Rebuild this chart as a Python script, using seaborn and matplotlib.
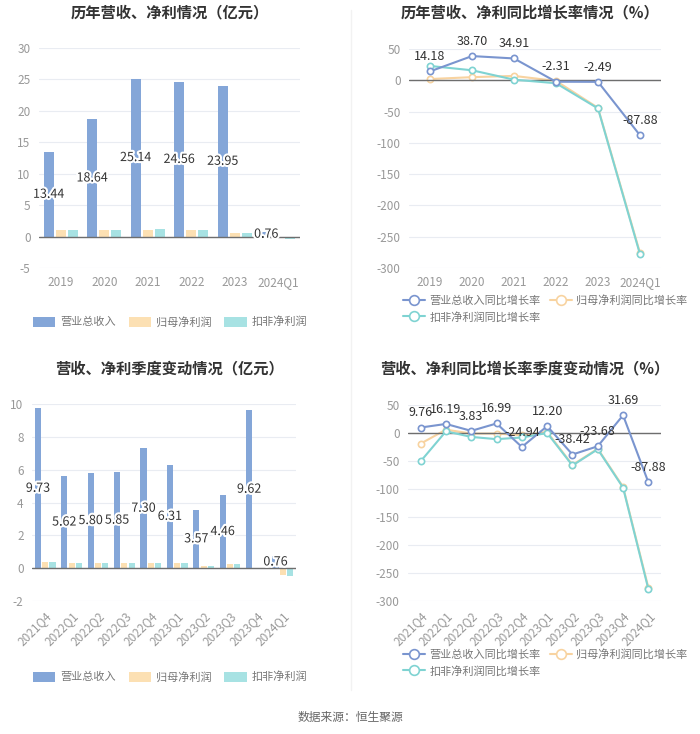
import matplotlib
matplotlib.use("Agg")
import matplotlib.pyplot as plt
import matplotlib.patheffects as pe
from matplotlib.lines import Line2D
from matplotlib.patches import Patch
import seaborn as sns
import pandas as pd
import numpy as np

sns.set_theme(style="white")
plt.rcParams['font.family'] = ['Noto Sans CJK SC', 'DejaVu Sans']
plt.rcParams['axes.unicode_minus'] = False

# ---------------- data ----------------
years = ["2019", "2020", "2021", "2022", "2023", "2024Q1"]
rev_y = [13.44, 18.64, 25.14, 24.56, 23.95, 0.76]
np_y = [1.02, 1.03, 1.12, 1.11, 0.52, -0.28]
kf_y = [0.98, 1.12, 1.14, 1.08, 0.52, -0.40]

rev_g_y = [14.18, 38.70, 34.91, -2.31, -2.49, -87.88]
np_g_y = [2.0, 5.0, 7.0, -1.0, -44.0, -276.0]
kf_g_y = [22.9, 16.0, 1.0, -4.7, -45.0, -278.0]

quarters = ["2021Q4", "2022Q1", "2022Q2", "2022Q3", "2022Q4",
            "2023Q1", "2023Q2", "2023Q3", "2023Q4", "2024Q1"]
rev_q = [9.73, 5.62, 5.80, 5.85, 7.30, 6.31, 3.57, 4.46, 9.62, 0.76]
np_q = [0.38, 0.30, 0.33, 0.32, 0.33, 0.30, 0.12, 0.25, -0.05, -0.40]
kf_q = [0.36, 0.29, 0.30, 0.31, 0.32, 0.30, 0.12, 0.24, -0.05, -0.46]

rev_g_q = [9.76, 16.19, 3.83, 16.99, -24.94, 12.20, -38.42, -23.68, 31.69, -87.88]
np_g_q = [-19.0, 6.0, -1.0, -1.0, -4.0, 2.0, -57.0, -28.0, -96.0, -276.0]
kf_g_q = [-50.5, 3.0, -7.0, -11.0, -8.0, 0.0, -58.0, -29.0, -97.5, -278.6]

bar_names = ["营业总收入", "归母净利润", "扣非净利润"]
line_names = ["营业总收入同比增长率", "归母净利润同比增长率", "扣非净利润同比增长率"]

bar_colors = ["#84a6d8", "#fce0b3", "#a7e2e3"]
line_colors = ["#7a95cf", "#f8d3a0", "#7fd3d2"]

tick_color = "#999999"
grid_color = "#e9ecf2"
text_color = "#333333"

W, H = 700, 734
fig = plt.figure(figsize=(7.0, 7.34), dpi=100)


def rect(l, t, r, b):
    return [l / W, 1 - b / H, (r - l) / W, (b - t) / H]


def style_axes(ax, yticks, ylim, rot=False):
    for s in ax.spines.values():
        s.set_visible(False)
    ax.set_yticks(yticks)
    ax.set_ylim(*ylim)
    ax.yaxis.grid(True, color=grid_color, lw=0.8)
    ax.set_axisbelow(True)
    ax.axhline(0, color="#6e6e6e", lw=1.0, zorder=4)
    ax.tick_params(axis="both", length=0, colors=tick_color, labelsize=8.5, pad=6)
    ax.set_xlabel("")
    ax.set_ylabel("")
    if rot:
        for lab in ax.get_xticklabels():
            lab.set_rotation(45)
            lab.set_ha("right")
            lab.set_rotation_mode("anchor")


def bar_panel(box, cats, rev, npf, kf, yticks, ylim, title, title_xy, legend_y, rot=False):
    ax = fig.add_axes(rect(*box))
    df = pd.DataFrame({
        "cat": cats * 3,
        "val": rev + npf + kf,
        "series": [bar_names[0]] * len(cats) + [bar_names[1]] * len(cats) + [bar_names[2]] * len(cats),
    })
    sns.barplot(data=df, x="cat", y="val", hue="series", palette=bar_colors,
                width=0.83, gap=0.17, ax=ax, legend=False, saturation=1, zorder=3,
                linewidth=0)
    ax.set_xlim(-0.5, len(cats) - 0.5)
    style_axes(ax, yticks, ylim, rot)
    for i, v in enumerate(rev):
        x = i - 0.83 / 3
        ax.text(x, v / 2, f"{v:.2f}", ha="center", va="center", fontsize=9,
                color=text_color, zorder=5,
                path_effects=[pe.withStroke(linewidth=3, foreground="white")])
    fig.text(title_xy[0] / W, 1 - title_xy[1] / H, title, ha="center", va="center",
             fontsize=11, fontweight="bold", color=text_color)
    handles = [Patch(facecolor=c, edgecolor="none") for c in bar_colors]
    fig.legend(handles, bar_names, loc="center", ncol=3,
               bbox_to_anchor=(title_xy[0] / W, 1 - legend_y / H),
               frameon=False, fontsize=8, labelcolor="#777777",
               handlelength=2.0, handleheight=1.0, columnspacing=1.2, handletextpad=0.4)
    return ax


def line_panel(box, cats, rev, npf, kf, yticks, ylim, title, title_xy, legend_xy, rot=False):
    ax = fig.add_axes(rect(*box))
    df = pd.DataFrame({"cat": cats, "rev": rev, "np": npf, "kf": kf})
    for col, c, z in zip(["rev", "np", "kf"], line_colors, [6, 4, 5]):
        sns.lineplot(data=df, x="cat", y=col, color=c, lw=1.5, marker="o",
                     markersize=4.5, markerfacecolor="white", markeredgecolor=c,
                     markeredgewidth=1.2, ax=ax, zorder=z, sort=False)
    ax.set_xlim(-0.5, len(cats) - 0.5)
    style_axes(ax, yticks, ylim, rot)
    for i, v in enumerate(rev):
        ax.annotate(f"{v:.2f}", (i, v), xytext=(0, 6), textcoords="offset points",
                    ha="center", va="bottom", fontsize=9, color=text_color, zorder=7)
    fig.text(title_xy[0] / W, 1 - title_xy[1] / H, title, ha="center", va="center",
             fontsize=11, fontweight="bold", color=text_color)
    handles = [Line2D([0], [0], color=c, lw=1.5, marker="o", markersize=7,
                      markerfacecolor="white", markeredgecolor=c, markeredgewidth=1.2)
               for c in line_colors]
    order = [0, 2, 1]
    fig.legend([handles[k] for k in order], [line_names[k] for k in order],
               loc="upper left", ncol=2,
               bbox_to_anchor=(legend_xy[0] / W, 1 - legend_xy[1] / H),
               frameon=False, fontsize=8, labelcolor="#777777",
               handlelength=2.0, columnspacing=0.8, handletextpad=0.4, labelspacing=0.5,
               borderaxespad=0, borderpad=0)
    return ax


bar_panel((39, 48, 300, 268), years, rev_y, np_y, kf_y,
          np.arange(-5, 31, 5), (-5, 30), "历年营收、净利情况（亿元）", (170, 12), 322)
line_panel((409, 49, 661, 268), years, rev_g_y, np_g_y, kf_g_y,
           np.arange(-300, 51, 50), (-300, 50), "历年营收、净利同比增长率情况（%）", (530, 12),
           (403, 295))
bar_panel((32, 404, 296, 601), quarters, rev_q, np_q, kf_q,
          np.arange(-2, 11, 2), (-2, 10), "营收、净利季度变动情况（亿元）", (170, 368), 677, rot=True)
line_panel((408, 405, 661, 601), quarters, rev_g_q, np_g_q, kf_g_q,
           np.arange(-300, 51, 50), (-300, 50), "营收、净利同比增长率季度变动情况（%）", (525, 368),
           (403, 649), rot=True)

# divider
fig.add_artist(Line2D([351 / W, 351 / W], [1 - 10 / H, 1 - 690 / H], color="#f2f2f2", lw=1))

fig.text(350 / W, 1 - 717 / H, "数据来源：恒生聚源", ha="center", va="center",
         fontsize=8.5, color="#666666")

fig.savefig("out.png", dpi=100, facecolor="white")
